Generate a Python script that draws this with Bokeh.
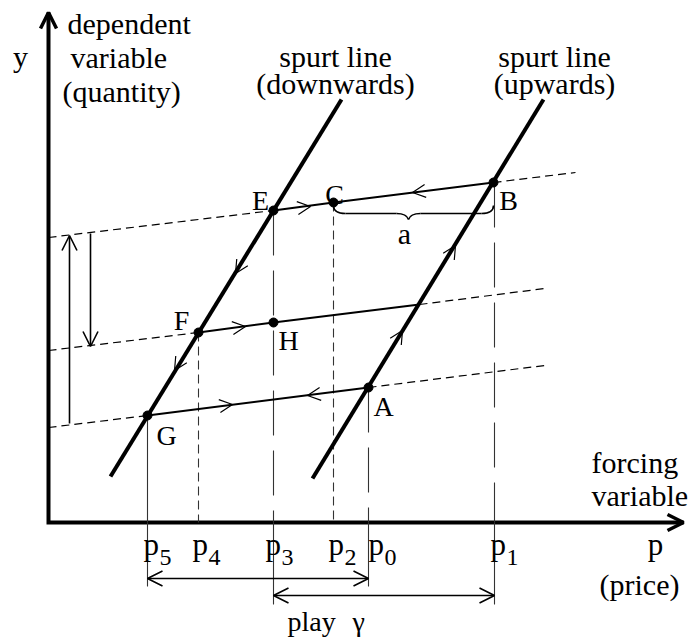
from bokeh.plotting import figure
from bokeh.models import Range1d, Arrow, OpenHead, ColumnDataSource
from bokeh.core.properties import value
from bokeh.embed import file_html
from bokeh.resources import INLINE

FONT = "Liberation Serif"

# ---------------- data (diagram units: price p to the right, quantity y upwards)
# ticks on the price axis
tick_sub = ["5", "4", "3", "2", "0", "1"]
tick_p = [99, 150, 225, 285, 320, 446]
tick_from = [107, 190, 312, 320, 135, 340]      # y of the state point above each tick
tick_kind = ["solid", "short", "long", "short", "long", "long"]
tick_below = [-64, 0, -82, 0, -64, -82]          # how far the tick line runs below the axis
tick_label_dx = [-4, -6, -8, -5, 0, -4]

# named states
pt_names = ["A", "B", "C", "E", "F", "G", "H"]
pt_p = [320, 445, 285, 225, 150, 99, 225]
pt_y = [135, 340, 320, 312, 190, 107, 200]
pt_lab_dx = [15, 15, 1, -13, -17, 19, 15]
pt_lab_dy = [-19, -18, 8, 10, 12, -20, -18]

# spurt lines
down_p = [62, 293]
down_y = [46, 423]
up_p = [264, 495]
up_y = [44, 423]
down_slope = 1.632
up_slope = 1.64
path_slope = 0.125

# solid paths
top_p = [225, 285, 445]   # E - C - B
top_y = [312, 320, 340]
mid_p = [150, 225, 371]   # F - H - upward spurt line
mid_y = [190, 200, 218]
bot_p = [99, 320]         # G - A
bot_y = [107, 135]

# dashed continuations
dash_p0 = [0, 445, 0, 371, 0, 320]
dash_y0 = [285, 340, 172, 218, 95, 135]
dash_p1 = [225, 527, 150, 496, 99, 496]
dash_y1 = [312, 350, 190, 234, 107, 157]

# direction marks along the paths
mark_p = [262, 364, 187, 126, 197, 184, 259, 354, 407]
mark_y = [316, 330, 249, 152, 196, 118, 127, 192, 277]
mark_dir = ["right", "left", "down", "down", "right", "right", "left", "up", "up"]

# brace "a" between C and B
brace_p0, brace_p1, brace_mid = 285, 445, 360
brace_end_y, brace_y, brace_tip_y = 317, 309, 303

# vertical arrows on the left
varrow_p = [21, 42]
varrow_from = [99, 289]
varrow_to = [287, 176]

# play arrows
play_y = [-56, -73]
play_from = [99, 225]
play_to = [320, 446]

axis_top = 510
axis_right = 635

# ---------------- figure
p = figure(width=691, height=639, x_range=Range1d(-48, 643), y_range=Range1d(-117, 522),
           output_backend="svg", toolbar_location=None, min_border=0,
           x_axis_type=None, y_axis_type=None)
p.grid.visible = False
p.outline_line_color = None
p.background_fill_color = "white"
p.border_fill_color = "white"

# axes
p.line([0, 0, axis_right], [axis_top, 0, 0], line_width=4, color="black", line_join="miter")
p.add_layout(Arrow(end=OpenHead(size=16, line_width=3.5, line_color="black"),
                   x_start=0, y_start=axis_top - 5, x_end=0, y_end=axis_top, line_alpha=0))
p.add_layout(Arrow(end=OpenHead(size=16, line_width=3.5, line_color="black"),
                   x_start=axis_right - 5, y_start=0, x_end=axis_right, y_end=0, line_alpha=0))

# projection lines to the price axis
dash_map = {"solid": "solid", "short": "9 5", "long": "45 15"}
for tp, tf, tk, tb in zip(tick_p, tick_from, tick_kind, tick_below):
    p.line([tp, tp], [tf, 0], line_width=1.1, color="#333333", line_dash=dash_map[tk])
    if tb < 0:
        p.line([tp, tp], [0, tb], line_width=1.1, color="#333333")

# dashed path continuations
p.segment(dash_p0, dash_y0, dash_p1, dash_y1, line_width=1.2, color="black", line_dash="8 5")

# solid paths
for xs, ys in [(top_p, top_y), (mid_p, mid_y), (bot_p, bot_y)]:
    p.line(xs, ys, line_width=2, color="black")

# spurt lines
p.line(down_p, down_y, line_width=4, color="black")
p.line(up_p, up_y, line_width=4, color="black")

# direction marks
dirs = {"right": (1.0, path_slope), "left": (-1.0, -path_slope),
        "down": (-1.0, -down_slope), "up": (1.0, up_slope)}
xs0, ys0 = [], []
for mp, my, md in zip(mark_p, mark_y, mark_dir):
    dx, dy = dirs[md]
    n = (dx * dx + dy * dy) ** 0.5
    xs0.append(mp - 4 * dx / n)
    ys0.append(my - 4 * dy / n)
msrc = ColumnDataSource(dict(xs=xs0, ys=ys0, xe=mark_p, ye=mark_y))
p.add_layout(Arrow(end=OpenHead(size=13, line_width=1.2, line_color="black"),
                   x_start="xs", y_start="ys", x_end="xe", y_end="ye",
                   source=msrc, line_alpha=0))

# state points
p.scatter(pt_p, pt_y, size=9, color="black")

# brace
r = 12
p.quadratic(x0=[brace_p0, brace_mid - r, brace_mid, brace_p1 - r],
            y0=[brace_end_y, brace_y, brace_tip_y, brace_y],
            x1=[brace_p0 + r, brace_mid, brace_mid + r, brace_p1],
            y1=[brace_y, brace_tip_y, brace_y, brace_end_y],
            cx=[brace_p0, brace_mid - 2, brace_mid + 2, brace_p1],
            cy=[brace_y, brace_y, brace_y, brace_y],
            line_width=1.6, color="black")
p.segment([brace_p0 + r, brace_mid + r], [brace_y, brace_y],
          [brace_mid - r, brace_p1 - r], [brace_y, brace_y], line_width=1.6, color="black")

# vertical arrows on the left
vsrc = ColumnDataSource(dict(x=varrow_p, y0=varrow_from, y1=varrow_to))
p.add_layout(Arrow(end=OpenHead(size=15, line_width=1.6, line_color="black"),
                   x_start="x", y_start="y0", x_end="x", y_end="y1",
                   source=vsrc, line_width=1.6, line_color="black"))

# play arrows
psrc = ColumnDataSource(dict(x0=play_from, x1=play_to, y=play_y))
p.add_layout(Arrow(start=OpenHead(size=15, line_width=1.6, line_color="black"),
                   end=OpenHead(size=15, line_width=1.6, line_color="black"),
                   x_start="x0", y_start="y", x_end="x1", y_end="y",
                   source=psrc, line_width=1.6, line_color="black"))

# ---------------- texts (positions give the vertical middle of each text)
def txt(x, y, s, size, align="left"):
    p.text(x=[x], y=[y], text=[s], text_font=value(FONT), text_font_size=size,
           text_align=align, text_baseline="middle", text_color="black")

# state labels
p.text(x=[a + b for a, b in zip(pt_p, pt_lab_dx)],
       y=[a + b for a, b in zip(pt_y, pt_lab_dy)],
       text=pt_names, text_font=value(FONT), text_font_size="28px",
       text_align="center", text_baseline="middle", text_color="black")
txt(brace_mid - 4, brace_tip_y - 14, "a", "30px", "center")

# tick labels
for tp, ts, tdx in zip(tick_p, tick_sub, tick_label_dx):
    txt(tp + tdx, -22, "p", "31px")
    txt(tp + tdx + 16, -35, ts, "24px")

# axis titles
txt(-28, 466, "y", "30px", "center")
txt(19, 499, "dependent", "30px")
txt(22, 465, "variable", "30px")
txt(14, 431, "(quantity)", "30px")
txt(543, 60, "forcing", "30px")
txt(543, 27, "variable", "30px")
txt(607, -22, "p", "31px", "center")
txt(591, -62, "(price)", "30px", "center")

# spurt line titles
txt(287, 466, "spurt line", "30px", "center")
txt(287, 439, "(downwards)", "30px", "center")
txt(506, 466, "spurt line", "30px", "center")
txt(506, 439, "(upwards)", "30px", "center")

# play
txt(239, -99, "play", "28px")
txt(304, -99, "\u03b3", "28px")

open("out.html", "w").write(file_html(p, INLINE))
